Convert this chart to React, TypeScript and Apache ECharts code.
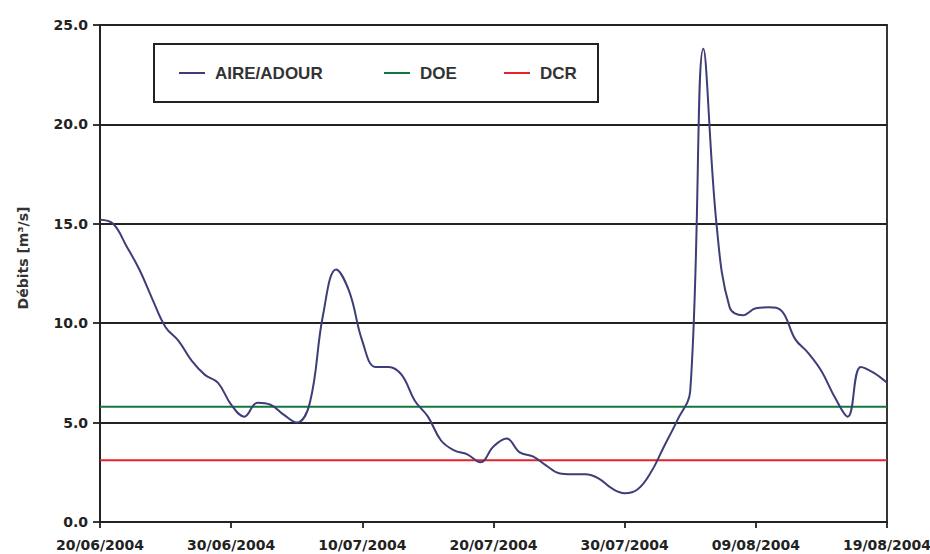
import React, { useEffect, useRef } from "react";
import * as echarts from "echarts";

// Daily flow (m³/s) at AIRE/ADOUR from 20/06/2004 to 19/08/2004
const flowValues: number[] = [
  15.2, 15.0, 13.9, 12.7, 11.2, 9.8, 9.1, 8.1, 7.4, 7.0,
  5.9, 5.3, 6.0, 5.9, 5.4, 5.0, 6.0, 10.4, 12.7, 11.6,
  9.1, 7.8, 7.8, 7.4, 6.1, 5.3, 4.1, 3.6, 3.4, 3.0,
  3.8, 4.2, 3.5, 3.3, 2.85, 2.45, 2.4, 2.4, 2.2, 1.7,
  1.45, 1.65, 2.5, 3.8, 5.1, 6.6, 23.8, 15.0, 10.8, 10.4,
  10.75, 10.8, 10.6, 9.2, 8.5, 7.6, 6.3, 5.3, 7.8, 7.5,
  7.0,
];
const doeValue = 5.8;
const dcrValue = 3.1;
const seriesNames = ["AIRE/ADOUR", "DOE", "DCR"];
const seriesColors = ["#3d3d78", "#13773d", "#e8202c"];
const yTicks = [0, 5, 10, 15, 20, 25];
const startDate = { year: 2004, month: 6, day: 20 };
const yAxisTitle = "Débits [m³/s]";

function buildDates(n: number): string[] {
  const out: string[] = [];
  const base = new Date(Date.UTC(startDate.year, startDate.month - 1, startDate.day));
  for (let i = 0; i < n; i++) {
    const d = new Date(base.getTime() + i * 86400000);
    const dd = String(d.getUTCDate()).padStart(2, "0");
    const mm = String(d.getUTCMonth() + 1).padStart(2, "0");
    out.push(`${dd}/${mm}/${d.getUTCFullYear()}`);
  }
  return out;
}

export default function App() {
  const ref = useRef<HTMLDivElement>(null);
  useEffect(() => {
    if (!ref.current) return;
    const chart = echarts.init(ref.current, undefined, { renderer: "svg" });
    const dates = buildDates(flowValues.length);
    const last = dates[dates.length - 1];
    const legendText = {
      fontFamily: "Liberation Sans",
      fontWeight: "bold" as const,
      fontSize: 17,
      color: "#333",
      lineHeight: 20,
      padding: [0, 0, 0, 5],
    };
    const legendLefts = [179, 384, 504];
    chart.setOption({
      animation: false,
      backgroundColor: "#fff",
      grid: {
        left: 100,
        right: 43,
        top: 25,
        bottom: 32,
        outerBoundsMode: "none",
        containLabel: false,
        show: true,
        borderColor: "#222",
        borderWidth: 1.8,
        backgroundColor: "transparent",
      },
      legend: seriesNames.map((name, i) => ({
        data: [name],
        left: legendLefts[i],
        top: 63,
        padding: 0,
        icon: "rect",
        itemWidth: 26,
        itemHeight: 2,
        textStyle: legendText,
        selectedMode: false,
      })),
      graphic: [
        {
          type: "rect",
          left: 153,
          top: 43,
          shape: { width: 444, height: 58 },
          style: { fill: "transparent", stroke: "#222", lineWidth: 2 },
          z: 10,
        },
        {
          type: "text",
          x: 23,
          y: 258,
          rotation: Math.PI / 2,
          style: {
            text: yAxisTitle,
            fontFamily: "DejaVu Sans",
            fontWeight: "bold",
            fontSize: 14,
            fill: "#333",
            align: "center",
            verticalAlign: "middle",
          },
        },
      ],
      xAxis: {
        type: "category",
        data: dates,
        boundaryGap: false,
        axisLine: { lineStyle: { color: "#222", width: 1.8 } },
        axisTick: { interval: 9, length: 6, lineStyle: { color: "#222", width: 1.8 } },
        axisLabel: {
          interval: 9,
          margin: 16,
          fontFamily: "DejaVu Sans",
          fontWeight: "bold",
          fontSize: 14,
          color: "#222",
          showMaxLabel: true,
        },
        splitLine: { show: false },
      },
      yAxis: {
        type: "value",
        min: yTicks[0],
        max: yTicks[yTicks.length - 1],
        interval: yTicks[1] - yTicks[0],
        axisLine: { show: true, lineStyle: { color: "#222", width: 1.8 } },
        axisTick: { show: true, length: 7, lineStyle: { color: "#222", width: 1.8 } },
        axisLabel: {
          margin: 12,
          formatter: (v: number) => v.toFixed(1),
          fontFamily: "DejaVu Sans",
          fontWeight: "bold",
          fontSize: 14,
          color: "#222",
        },
        splitLine: { lineStyle: { color: "#222", width: 1.8 } },
      },
      series: [
        {
          name: seriesNames[0],
          type: "line",
          data: flowValues,
          smooth: 0.4,
          symbol: "none",
          lineStyle: { color: seriesColors[0], width: 2 },
          itemStyle: { color: seriesColors[0] },
          z: 5,
        },
        {
          name: seriesNames[1],
          type: "line",
          data: [[dates[0], doeValue], [last, doeValue]],
          symbol: "none",
          lineStyle: { color: seriesColors[1], width: 2 },
          itemStyle: { color: seriesColors[1] },
          z: 4,
        },
        {
          name: seriesNames[2],
          type: "line",
          data: [[dates[0], dcrValue], [last, dcrValue]],
          symbol: "none",
          lineStyle: { color: seriesColors[2], width: 2 },
          itemStyle: { color: seriesColors[2] },
          z: 4,
        },
      ],
    });
    return () => chart.dispose();
  }, []);
  return (
    <div
      ref={ref}
      style={{ position: "fixed", left: 0, top: 0, width: 930, height: 554 }}
    />
  );
}
